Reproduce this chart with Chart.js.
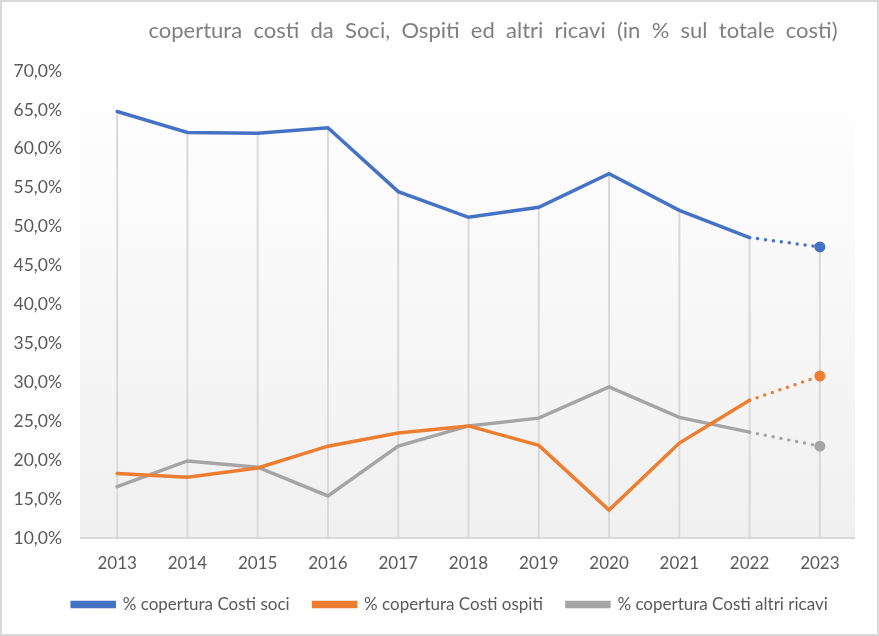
<!DOCTYPE html>
<html>
<head>
<meta charset="utf-8">
<script src="https://cdn.jsdelivr.net/npm/chart.js@4"></script>
<style>
  html, body { margin: 0; padding: 0; background: #fff; }
  #wrap { width: 879px; height: 636px; box-sizing: border-box; border: 2px solid #d9d9d9; position: relative; }
  canvas { display: block; }
</style>
</head>
<body>
<div id="wrap"><canvas id="chart" width="875" height="632"></canvas></div>
<script>
// anni e serie
var years = ['2013', '2014', '2015', '2016', '2017', '2018', '2019', '2020', '2021', '2022', '2023'];
var costiSoci = [64.8, 62.1, 62.0, 62.7, 54.5, 51.2, 52.5, 56.8, 52.1, 48.6, 47.4];
var costiOspiti = [18.3, 17.8, 19.0, 21.8, 23.5, 24.4, 21.9, 13.6, 22.2, 27.7, 30.8];
var costiAltri = [16.6, 19.9, 19.1, 15.4, 21.8, 24.4, 25.4, 29.4, 25.5, 23.6, 21.8];
var yTicks = [10, 15, 20, 25, 30, 35, 40, 45, 50, 55, 60, 65, 70];
var titolo = 'copertura  costi  da  Soci,  Ospiti  ed  altri  ricavi  (in  %  sul  totale  costi)';

var FONT = 'Lato, "Open Sans", sans-serif';

// ultimo tratto tratteggiato (previsione)
function lastDotted(ctx) {
    return ctx.p1DataIndex === years.length - 1 ? [0, 8] : undefined;
}

function makeSet(label, data, color) {
    return {
        label: label,
        data: data,
        borderColor: color,
        backgroundColor: color,
        borderWidth: 3.5,
        borderCapStyle: 'round',
        tension: 0,
        pointRadius: data.map((v, i) => i === data.length - 1 ? 5.5 : 0),
        pointHoverRadius: 5.5,
        pointBackgroundColor: color,
        pointBorderWidth: 0,
        segment: { borderDash: lastDotted }
    };
}

// sfondo sfumato, linee verticali e titolo
var backdrop = {
    id: 'backdrop',
    beforeLayout(chart) {
        var lg = chart.legend;
        if (lg && !lg._patched) {
            var fit = lg.fit;
            lg.fit = function () {
                fit.call(this);
                this.height = 52;
            };
            lg._patched = true;
        }
    },
    afterLayout(chart) {
        // legenda un po' più a destra, come nell'originale
        chart.legend.left += 16;
        chart.legend.right += 16;
    },
    beforeDatasetsDraw(chart) {
        var a = chart.chartArea, c = chart.ctx;
        var g = c.createLinearGradient(0, a.top, 0, a.bottom);
        g.addColorStop(0, '#ffffff');
        g.addColorStop(1, '#f0f0f0');
        c.save();
        c.fillStyle = g;
        c.fillRect(a.left - 2, a.top, a.right - a.left + 2, a.bottom - a.top);
        var x = chart.scales.x, y = chart.scales.y;
        c.strokeStyle = '#d9d9d9';
        c.lineWidth = 2;
        years.forEach((yr, i) => {
            var top = Math.max(costiSoci[i], costiOspiti[i], costiAltri[i]);
            var px = x.getPixelForValue(i);
            c.beginPath();
            c.moveTo(px, y.getPixelForValue(top));
            c.lineTo(px, a.bottom);
            c.stroke();
        });
        c.beginPath();
        c.moveTo(a.left - 2, a.bottom);
        c.lineTo(a.right, a.bottom);
        c.stroke();
        c.restore();
    },
    afterDraw(chart) {
        var c = chart.ctx;
        c.save();
        c.fillStyle = '#7f7f7f';
        c.font = '22px ' + FONT;
        c.textAlign = 'center';
        c.textBaseline = 'middle';
        c.fillText(titolo, 491, 29);
        c.restore();
    }
};

new Chart(document.getElementById('chart'), {
    type: 'line',
    data: {
        labels: years,
        datasets: [
            makeSet('% copertura Costi soci', costiSoci, '#4472c4'),
            makeSet('% copertura Costi ospiti', costiOspiti, '#ed7d31'),
            makeSet('% copertura Costi altri ricavi', costiAltri, '#a5a5a5')
        ]
    },
    options: {
        responsive: false,
        animation: false,
        layout: { padding: { left: 11, right: 22, top: 69, bottom: 10 } },
        scales: {
            x: {
                offset: true,
                grid: { display: false },
                border: { display: false },
                afterFit: axis => { axis.height = 34; },
                ticks: { color: '#595959', font: { family: FONT, size: 17 }, padding: 7 }
            },
            y: {
                min: 10,
                max: 70,
                afterBuildTicks: axis => { axis.ticks = yTicks.map(v => ({ value: v })); },
                afterFit: axis => { axis.width = 69; },
                grid: { display: false },
                border: { display: false },
                ticks: {
                    color: '#595959',
                    font: { family: FONT, size: 17.5 },
                    padding: 12,
                    callback: v => v.toFixed(1).replace('.', ',') + '%'
                }
            }
        },
        plugins: {
            title: { display: false },
            legend: {
                position: 'bottom',
                labels: {
                    color: '#595959',
                    font: { family: FONT, size: 17 },
                    boxWidth: 42,
                    boxHeight: 4,
                    padding: 24
                }
            },
            tooltip: { enabled: false }
        }
    },
    plugins: [backdrop]
});
</script>
</body>
</html>
